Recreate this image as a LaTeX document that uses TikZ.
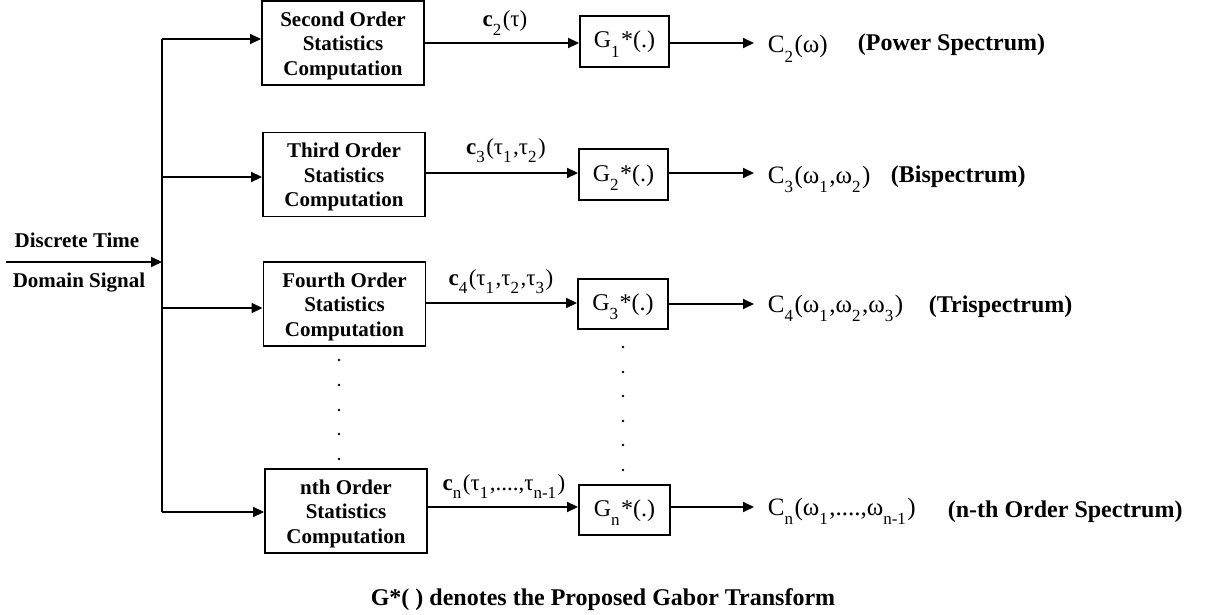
\documentclass[tikz,border=0pt]{standalone}
\usepackage{fontspec}
\setmainfont{Liberation Serif}
\usetikzlibrary{arrows.meta}
\newcommand\dn[1]{\raisebox{-0.38em}{\fontsize{17}{17}\selectfont #1}\kern1.5pt}
\newcommand\topfix{\rule{0pt}{20pt}}
\begin{document}
\begin{tikzpicture}[x=1pt,y=-1pt,line width=1.8pt,
  stat/.style={draw,line width=1.9pt,minimum width=162pt,minimum height=84pt,inner sep=0pt,align=center,font=\fontsize{21}{24.5}\selectfont\bfseries},
  gbox/.style={draw,line width=1.9pt,minimum width=89pt,minimum height=51pt,inner sep=0pt,text height=13pt,text depth=0pt,font=\fontsize{24}{24}\selectfont},
  arr/.style={-{Triangle[length=11pt,width=10pt]},line width=1.8pt},
  lbl/.style={anchor=base,inner sep=0pt,font=\fontsize{23}{23}\selectfont},
  outl/.style={anchor=base west,inner sep=0pt,font=\fontsize{25}{25}\selectfont},
  spec/.style={anchor=base west,inner sep=0pt,font=\fontsize{24}{24}\selectfont\bfseries},
  intxt/.style={anchor=base,inner sep=0pt,font=\fontsize{21}{21}\selectfont\bfseries},
  capt/.style={anchor=base,inner sep=0pt,font=\fontsize{24}{24}\selectfont\bfseries}]
\useasboundingbox (0,0) rectangle (1207,615);

% statistics boxes
\node[stat] (s1) at (343,43) {\topfix Second Order\\Statistics\\Computation};
\node[stat] (s2) at (344,174.5) {\topfix Third Order\\Statistics\\Computation};
\node[stat] (s3) at (344.5,304) {\topfix Fourth Order\\Statistics\\Computation};
\node[stat] (s4) at (346,511) {\topfix nth Order\\Statistics\\Computation};

% Gabor boxes
\node[gbox] (g1) at (624.5,41.5) {G\dn{1}*(.)};
\node[gbox] (g2) at (623.5,174.5) {G\dn{2}*(.)};
\node[gbox,minimum width=90pt,minimum height=50pt] (g3) at (623,304) {G\dn{3}*(.)};
\node[gbox,minimum width=91pt,minimum height=50pt] (g4) at (624.5,510) {G\dn{n}*(.)};

% input and bus
\coordinate (in) at (6,262);
\coordinate (bj) at (162,262);
\coordinate (bt) at (162,39);
\coordinate (b2) at (162,177);
\coordinate (b3) at (162,308);
\coordinate (bb) at (162,512);
\node[intxt] (dt) at (77,247) {Discrete Time};
\node[intxt] (ds) at (79,287) {Domain Signal};
\draw[arr] (in) -- (bj);
\draw (bt) -- (bb);
\draw[arr] (bt) -- (bt -| s1.west);
\draw[arr] (b2) -- (b2 -| s2.west);
\draw[arr] (b3) -- (b3 -| s3.west);
\draw[arr] (bb) -- (bb -| s4.west);

% stat -> G
\coordinate (a1) at (425,43);
\coordinate (a2) at (425,173);
\coordinate (a3) at (426,303);
\coordinate (a4) at (427,507);
\draw[arr] (a1) -- (a1 -| g1.west);
\draw[arr] (a2) -- (a2 -| g2.west);
\draw[arr] (a3) -- (a3 -| g3.west);
\draw[arr] (a4) -- (a4 -| g4.west);

% edge labels
\node[lbl] (l1) at (505,27) {\textbf{c}\dn{2}(τ)};
\node[lbl] (l2) at (506,154) {\textbf{c}\dn{3}(τ\dn{1},τ\dn{2})};
\node[lbl] (l3) at (501,285) {\textbf{c}\dn{4}(τ\dn{1},τ\dn{2},τ\dn{3})};
\node[lbl] (l4) at (504,490) {\textbf{c}\dn{n}(τ\dn{1},....,τ\dn{n-1})};

% outputs
\node[outl] (o1) at (767,53) {C\dn{2}(ω)};
\node[outl] (o2) at (767,183) {C\dn{3}(ω\dn{1},ω\dn{2})};
\node[outl] (o3) at (767,312) {C\dn{4}(ω\dn{1},ω\dn{2},ω\dn{3})};
\node[outl] (o4) at (767,515) {C\dn{n}(ω\dn{1},....,ω\dn{n-1})};
\coordinate (e1) at (669,43);
\coordinate (e2) at (668,173);
\coordinate (e3) at (668,304);
\coordinate (e4) at (670,507);
\draw[arr,shorten >=13pt] (e1) -- (e1 -| o1.west);
\draw[arr,shorten >=13pt] (e2) -- (e2 -| o2.west);
\draw[arr,shorten >=13pt] (e3) -- (e3 -| o3.west);
\draw[arr,shorten >=13pt] (e4) -- (e4 -| o4.west);

% spectrum names
\node[spec] (p1) at (857,51) {(Power Spectrum)};
\node[spec] (p2) at (890,182) {(Bispectrum)};
\node[spec] (p3) at (928,312) {(Trispectrum)};
\node[spec] (p4) at (947,517) {(n-th Order Spectrum)};

% continuation dots
\foreach \yy in {360,385,410,434,459} \fill (339,\yy) circle (1.3pt);
\foreach \yy in {347,372,396,421,445,470} \fill (623,\yy) circle (1.3pt);

% caption
\node[capt] (cap) at (603,605) {G*( ) denotes the Proposed Gabor Transform};
\end{tikzpicture}
\end{document}
